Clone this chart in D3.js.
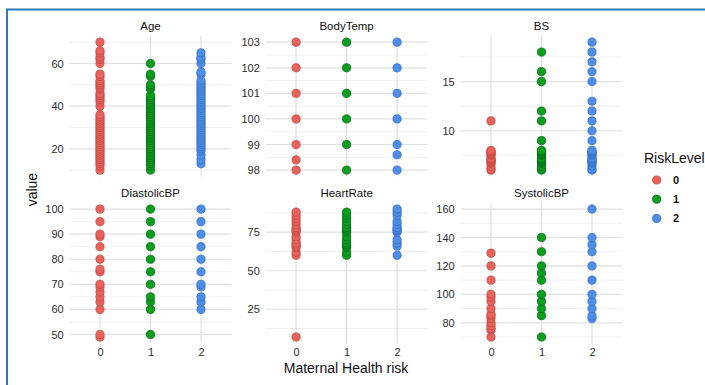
<!DOCTYPE html>
<html>
<head>
<meta charset="utf-8">
<script src="https://cdn.jsdelivr.net/npm/d3@7"></script>
<style>
  html, body { margin: 0; padding: 0; background: #ffffff; }
  svg { display: block; font-family: "Liberation Sans", Arial, sans-serif; }
</style>
</head>
<body>
<svg id="chart" width="705" height="385"></svg>
<script>
// ---------------- DATA ----------------
const categories = ["0", "1", "2"];
const panelNames = ["Age", "BodyTemp", "BS", "DiastolicBP", "HeartRate", "SystolicBP"];

// values per risk level [level0, level1, level2]
const ageValues = [
  [10,12,13,14,15,16,17,18,19,20,21,22,23,24,25,26,27,28,29,30,31,32,33,34,35,36,40,42,43,44,45,46,48,49,50,51,52,54,55,60,62,63,65,66,70],
  [10,12,13,14,15,16,17,18,19,20,21,22,23,24,25,26,27,28,29,30,31,32,33,34,35,36,37,38,39,40,41,42,43,44,45,48,49,50,54,55,60],
  [13,15,17,19,20,21,22,23,24,25,26,27,28,29,30,31,32,33,34,35,36,37,38,39,40,41,42,43,44,45,46,47,48,49,50,51,52,55,56,60,62,63,65]
];
const bodyTempValues = [
  [98, 98.4, 99, 100, 101, 102, 103],
  [98, 99, 100, 101, 102, 103],
  [98, 98.6, 99, 100, 101, 102, 103]
];
const bsValues = [
  [6, 6.1, 6.4, 6.7, 6.8, 6.9, 7, 7.1, 7.2, 7.5, 7.6, 7.7, 7.8, 7.9, 8, 11],
  [6, 6.1, 6.4, 6.7, 6.8, 6.9, 7, 7.1, 7.2, 7.5, 7.6, 7.7, 7.8, 7.9, 8, 9, 11, 12, 15, 16, 18],
  [6, 6.1, 6.4, 6.7, 6.8, 6.9, 7, 7.1, 7.2, 7.5, 7.6, 7.7, 7.8, 7.9, 8, 9, 10, 11, 12, 13, 15, 16, 17, 18, 19]
];
const diastolicValues = [
  [49, 50, 60, 63, 65, 67, 69, 70, 75, 76, 80, 85, 89, 90, 95, 100],
  [50, 60, 63, 65, 70, 75, 80, 85, 90, 95, 100],
  [60, 63, 65, 69, 70, 75, 80, 85, 90, 95, 100]
];
const heartRateValues = [
  [7, 60, 62, 65, 66, 67, 68, 70, 72, 75, 76, 77, 78, 80, 82, 84, 86, 88],
  [60, 62, 65, 66, 67, 68, 70, 72, 75, 76, 77, 78, 80, 82, 84, 86, 88],
  [60, 66, 68, 70, 75, 76, 77, 78, 80, 82, 86, 88, 90]
];
const systolicValues = [
  [70, 75, 76, 78, 80, 83, 85, 86, 90, 95, 98, 100, 110, 120, 129],
  [70, 85, 90, 95, 100, 110, 115, 120, 130, 140],
  [83, 85, 90, 95, 100, 110, 120, 130, 135, 140, 160]
];

const ageTicks = [20, 40, 60];
const bodyTempTicks = [98, 99, 100, 101, 102, 103];
const bsTicks = [10, 15];
const diastolicTicks = [50, 60, 70, 80, 90, 100];
const heartRateTicks = [25, 50, 75];
const systolicTicks = [80, 100, 120, 140, 160];

const panelValues = [ageValues, bodyTempValues, bsValues, diastolicValues, heartRateValues, systolicValues];
const panelTicks = [ageTicks, bodyTempTicks, bsTicks, diastolicTicks, heartRateTicks, systolicTicks];

const xTitle = "Maternal Health risk";
const yTitle = "value";
const legendTitle = "RiskLevel";

// ---------------- STYLE / LAYOUT ----------------
const fillColors = ["#e8635c", "#0a9e1e", "#4f8ee6"];
const strokeColors = ["#c44842", "#046e18", "#3670c6"];
const colX = [69.7, 265.8, 460.7];
const rowY = [35.8, 202.7];
const panelW = 161.6;
const panelH = 140.7;
const pointR = 4.1;

const svg = d3.select("#chart");

// outer blue frame (clipped on right and bottom)
svg.append("rect")
  .attr("x", 7).attr("y", 9.5)
  .attr("width", 760).attr("height", 420)
  .attr("fill", "none")
  .attr("stroke", "#2c79b6")
  .attr("stroke-width", 2);

panelNames.forEach((name, i) => {
  const col = i % 3, row = Math.floor(i / 3);
  const x0 = colX[col], y0 = rowY[row];
  const vals = panelValues[i];
  const ticks = panelTicks[i];
  const all = vals.flat();
  const mn = d3.min(all), mx = d3.max(all);
  const pad = (mx - mn) * 0.05;

  const x = d3.scalePoint().domain(categories).range([x0, x0 + panelW]).padding(0.6);
  const y = d3.scaleLinear().domain([mn - pad, mx + pad]).range([y0 + panelH, y0]);

  const g = svg.append("g");

  // minor grid lines
  const step = ticks.length > 1 ? ticks[1] - ticks[0] : 5;
  const minor = [];
  for (let k = 0; k < ticks.length - 1; k++) minor.push((ticks[k] + ticks[k + 1]) / 2);
  if (ticks[0] - step / 2 >= y.domain()[0]) minor.unshift(ticks[0] - step / 2);
  if (ticks[ticks.length - 1] + step / 2 <= y.domain()[1]) minor.push(ticks[ticks.length - 1] + step / 2);

  g.selectAll(".minor").data(minor).join("line")
    .attr("x1", x0).attr("x2", x0 + panelW)
    .attr("y1", d => y(d)).attr("y2", d => y(d))
    .attr("stroke", "#eeeeee").attr("stroke-width", 0.9);

  g.selectAll(".major").data(ticks).join("line")
    .attr("x1", x0).attr("x2", x0 + panelW)
    .attr("y1", d => y(d)).attr("y2", d => y(d))
    .attr("stroke", "#e0e0e0").attr("stroke-width", 1.2);

  g.selectAll(".vmajor").data(categories).join("line")
    .attr("x1", d => x(d)).attr("x2", d => x(d))
    .attr("y1", y0).attr("y2", y0 + panelH)
    .attr("stroke", "#e0e0e0").attr("stroke-width", 1.2);

  // y axis
  const yAxis = g.append("g")
    .attr("transform", `translate(${x0},0)`)
    .call(d3.axisLeft(y).tickValues(ticks).tickSize(0).tickPadding(6).tickFormat(d3.format("d")));
  yAxis.select(".domain").remove();
  yAxis.selectAll("text").attr("font-size", 11).attr("fill", "#2e2e2e")
    .attr("font-family", "Liberation Sans, Arial, sans-serif");

  // x axis on bottom row
  if (row === 1) {
    const xAxis = g.append("g")
      .attr("transform", `translate(0,${y0 + panelH})`)
      .call(d3.axisBottom(x).tickSize(0).tickPadding(5));
    xAxis.select(".domain").remove();
    xAxis.selectAll("text").attr("font-size", 11).attr("fill", "#2e2e2e")
      .attr("font-family", "Liberation Sans, Arial, sans-serif");
  }

  // strip title
  g.append("text")
    .attr("x", x0 + panelW / 2).attr("y", y0 - 6)
    .attr("text-anchor", "middle")
    .attr("font-size", 11.5).attr("fill", "#111111")
    .text(name);

  // points
  vals.forEach((arr, ci) => {
    g.selectAll(null).data(arr).join("circle")
      .attr("cx", x(categories[ci]))
      .attr("cy", d => y(d))
      .attr("r", pointR)
      .attr("fill", fillColors[ci])
      .attr("stroke", strokeColors[ci])
      .attr("stroke-width", 0.8);
  });
});

// axis titles
svg.append("text")
  .attr("x", colX[0] + (colX[2] + panelW - colX[0]) / 2)
  .attr("y", 373)
  .attr("text-anchor", "middle")
  .attr("font-size", 14).attr("fill", "#111111")
  .text(xTitle);

svg.append("text")
  .attr("transform", `translate(37,${(rowY[0] + rowY[1] + panelH) / 2}) rotate(-90)`)
  .attr("text-anchor", "middle")
  .attr("font-size", 14).attr("fill", "#111111")
  .text(yTitle);

// legend
const leg = svg.append("g");
leg.append("text")
  .attr("x", 644).attr("y", 163)
  .attr("font-size", 14).attr("fill", "#111111")
  .text(legendTitle);
categories.forEach((c, i) => {
  const yy = 180 + i * 19.2;
  leg.append("circle")
    .attr("cx", 656.7).attr("cy", yy).attr("r", pointR)
    .attr("fill", fillColors[i]).attr("stroke", strokeColors[i]).attr("stroke-width", 0.8);
  leg.append("text")
    .attr("x", 673).attr("y", yy + 4)
    .attr("font-size", 11).attr("font-weight", "bold").attr("fill", "#111111")
    .text(c);
});
</script>
</body>
</html>
